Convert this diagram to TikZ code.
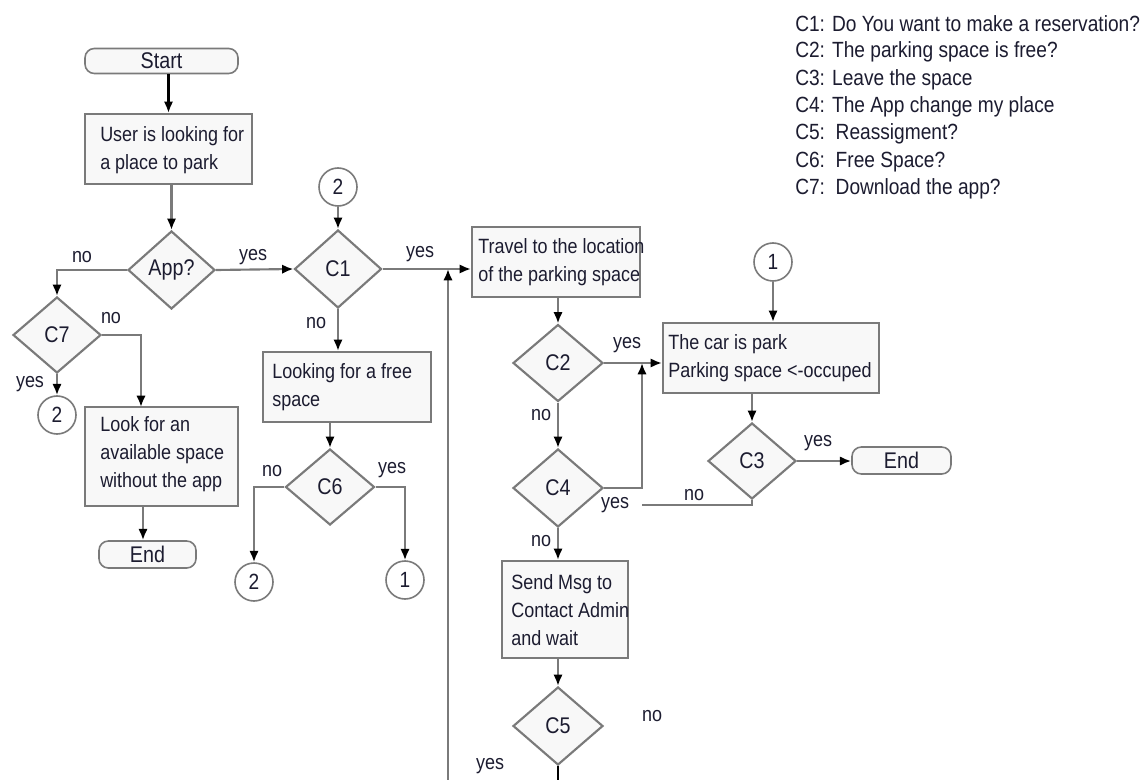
\documentclass[tikz,border=0pt]{standalone}
\usepackage{fontspec}
\setmainfont[FakeStretch=0.87]{Liberation Sans}
\usetikzlibrary{arrows.meta,shapes.geometric,calc}
\definecolor{ln}{HTML}{7A7A7A}
\definecolor{bx}{HTML}{F8F8F8}
\definecolor{tx}{HTML}{1C1C30}
\begin{document}
\begin{tikzpicture}[x=0.75pt,y=-0.75pt,
 font=\fontsize{15.5}{21}\selectfont, text=tx,
 every node/.style={inner sep=0pt},
 sz/.style 2 args={minimum width={#1*0.75pt},minimum height={#2*0.75pt}},
 conn/.style={draw=ln,line width=1.6pt,-{Latex[length=8.5pt,width=7pt,color=black]}},
 plain/.style={draw=ln,line width=1.6pt},
 box/.style={draw=ln,fill=bx,line width=1.6pt,rectangle},
 term/.style={draw=ln,fill=bx,line width=1.2pt,rectangle,rounded corners=7pt,font=\fontsize{17}{21}\selectfont},
 dec/.style={draw=ln,fill=bx,line width=1.6pt,diamond,font=\fontsize{17}{21}\selectfont},
 jn/.style={draw=ln,fill=white,line width=1.2pt,circle,minimum size=28.5pt,font=\fontsize{16.5}{21}\selectfont},
 txt/.style={align=left,anchor=west},
 leg/.style={anchor=west,font=\fontsize{16.5}{21}\selectfont},
]
\fill[white] (0,0) rectangle (1148,780);
\useasboundingbox (0,0) rectangle (1148,780);

% left column
\node[term,sz={153}{25}] (start) at (161.5,61) {Start};
\node[box,sz={167}{70}] (b1) at (168.5,149) {};
\node[txt] (b1t) at (100,150.5) {User is looking for\\a place to park};
\node[dec,sz={87}{78}] (app) at (171.5,270) {App?};
\node[dec,sz={88}{76}] (c7) at (57,335) {C7};
\node[jn] (j2a) at (57,415) {2};
\node[box,sz={153}{99}] (look) at (161.5,456.5) {};
\node[txt] (lookt) at (100,454) {Look for an\\available space\\without the app};
\node[term,sz={97}{27}] (end1) at (147.5,554.5) {End};

% second column
\node[jn] (j2b) at (338,187) {2};
\node[dec,sz={87}{78}] (c1) at (338,269) {C1};
\node[box,sz={168}{70}] (free) at (347,387) {};
\node[txt] (freet) at (272,387.5) {Looking for a free\\space};
\node[dec,sz={89}{76}] (c6) at (330,487) {C6};
\node[jn] (j2c) at (254,582) {2};
\node[jn] (j1a) at (405,580) {1};

% third column
\node[box,sz={168}{70}] (trav) at (556,262) {};
\node[txt] (travt) at (478,262) {Travel to the location\\of the parking space};
\node[dec,sz={90}{77}] (c2) at (558,363) {C2};
\node[dec,sz={90}{78}] (c4) at (558,488) {C4};
\node[box,sz={126}{97}] (send) at (565,609.5) {};
\node[txt] (sendt) at (511,610) {Send Msg to\\Contact Admin\\and wait};
\node[dec,sz={90}{78}] (c5) at (558,726) {C5};
\coordinate (c5end) at (558,780);
\coordinate (vbot) at (448,780);

% right column
\node[jn] (j1b) at (773,262) {1};
\node[box,sz={216}{70}] (car) at (771,358) {};
\node[txt] (cart) at (668,358.5) {The car is park\\Parking space <-occuped};
\node[dec,sz={88}{76}] (c3) at (752,461) {C3};
\node[term,sz={99}{27}] (end2) at (901.5,460.5) {End};
\coordinate (jx) at (642,505);

% connectors
\draw[conn,draw=black] (b1.north |- start.south) -- (b1.north);
\draw[conn] (app.north |- b1.south) -- (app.north);
\draw[conn] (app.west) -- (c7.north |- app.west) -- (c7.north);
\draw[conn] (app.east) -- (c1.west);
\draw[conn] (c7.east) -- (141,335) -- (141,407);
\draw[conn] (c7.south) -- (j2a.north);
\draw[conn] (look.south -| 143,0) -- (end1.north -| 143,0);
\draw[conn] (j2b.south) -- (c1.north);
\draw[conn] (c1.south) -- (c1.south |- free.north);
\draw[conn] (c6.north |- free.south) -- (c6.north);
\draw[conn] (c6.west) -- (c6.west -| j2c.north) -- (j2c.north);
\draw[conn] (c6.east) -- (c6.east -| j1a.north) -- (j1a.north);
\draw[conn] (c1.east) -- (c1.east -| trav.west);
\draw[conn] (vbot) -- (vbot |- c1.east);
\draw[conn] (c2.north |- trav.south) -- (c2.north);
\draw[conn] (c2.east) -- (c2.east -| car.west);
\draw[conn] (c2.south) -- (c4.north);
\draw[conn] (c4.east) -- (c4.east -| jx) -- (jx |- c2.east);
\draw[plain] (c3.south) -- (c3.south |- jx) -- (jx);
\draw[conn] (j1b.south) -- (j1b.south |- car.north);
\draw[conn] (c3.north |- car.south) -- (c3.north);
\draw[conn] (c3.east) -- (c3.east -| end2.west);
\draw[conn] (c4.south) -- (c4.south |- send.north);
\draw[conn] (c5.north |- send.south) -- (c5.north);
\draw[black,line width=1.8pt] (c5.south) -- (c5end);

% labels
\node (l1) at (82,257) {no};
\node (l2) at (253,257) {yes};
\node (l3) at (111,318) {no};
\node (l4) at (30,384) {yes};
\node (l5) at (316,323) {no};
\node (l6) at (272,471) {no};
\node (l7) at (392,470) {yes};
\node (l8) at (420,254) {yes};
\node (l9) at (627,345) {yes};
\node (l10) at (541,415) {no};
\node (l11) at (615,505) {yes};
\node (l12) at (694,495) {no};
\node (l13) at (818,443) {yes};
\node (l14) at (541,541) {no};
\node (l15) at (652,716) {no};
\node (l16) at (490,766) {yes};

% legend
\node[leg] (g1) at (795,24) {C1: Do You want to make a reservation?};
\node[leg] (g2) at (795,52) {C2: The parking space is free?};
\node[leg] (g3) at (795,80) {C3: Leave the space};
\node[leg] (g4) at (795,107) {C4: The App change my place};
\node[leg] (g5) at (795,134) {C5:\ \ Reassigment?};
\node[leg] (g6) at (795,162) {C6:\ \ Free Space?};
\node[leg] (g7) at (795,189) {C7:\ \ Download the app?};
\end{tikzpicture}
\end{document}
